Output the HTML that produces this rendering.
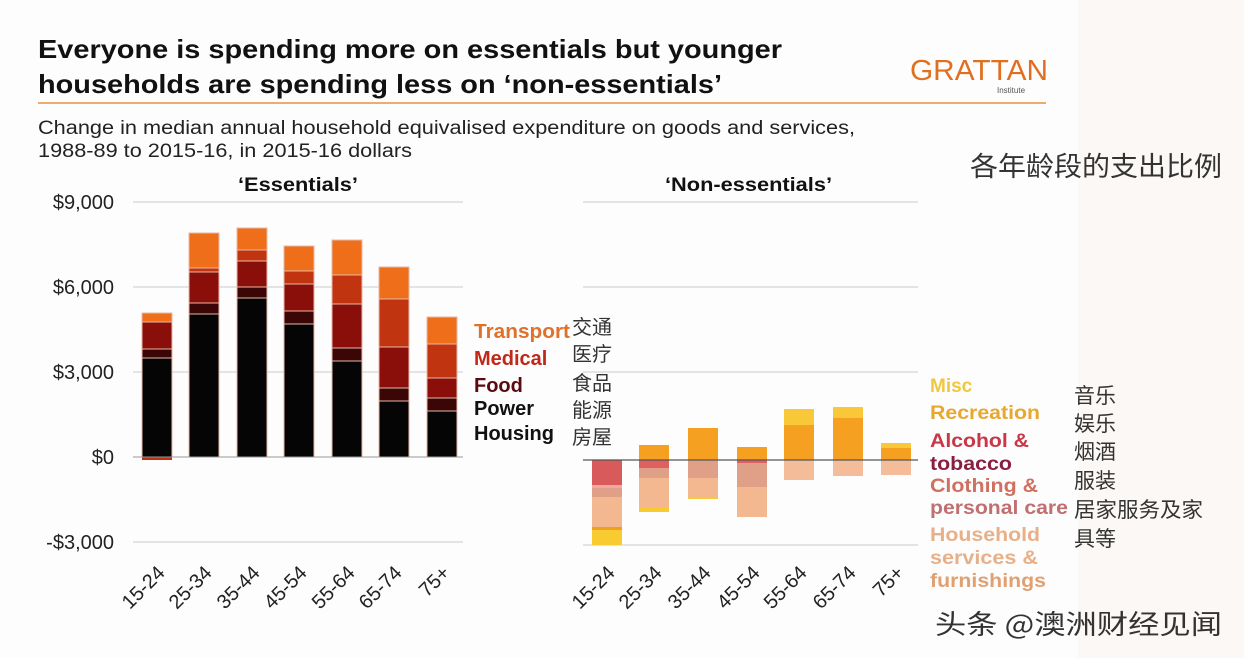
<!DOCTYPE html>
<html><head><meta charset="utf-8"><style>
html,body{margin:0;padding:0;background:#fff;}
svg{display:block;}
text{font-family:"Liberation Sans","Noto Sans CJK SC",sans-serif;}
.cn{font-family:"Noto Sans CJK SC",sans-serif;fill:#333;}
</style></head><body>
<svg width="1244" height="658" viewBox="0 0 1244 658" xmlns="http://www.w3.org/2000/svg">
<rect width="1244" height="658" fill="#fdfdfd"/>
<rect x="1078" y="0" width="166" height="658" fill="#fbf8f5"/>
<text x="38" y="58" font-size="26" font-weight="bold" fill="#111" textLength="744" lengthAdjust="spacingAndGlyphs">Everyone is spending more on essentials but younger</text>
<text x="38" y="93" font-size="26" font-weight="bold" fill="#111" textLength="684" lengthAdjust="spacingAndGlyphs">households are spending less on ‘non-essentials’</text>
<text x="910" y="80" font-size="29" fill="#e07020" textLength="138" lengthAdjust="spacingAndGlyphs">GRATTAN</text>
<text x="997" y="93" font-size="8" fill="#555">Institute</text>
<line x1="38" y1="103" x2="1046" y2="103" stroke="#e89040" stroke-width="1.5"/>
<text x="38" y="134" font-size="19" fill="#222" textLength="817" lengthAdjust="spacingAndGlyphs">Change in median annual household equivalised expenditure on goods and services,</text>
<text x="38" y="157" font-size="19" fill="#222" textLength="374" lengthAdjust="spacingAndGlyphs">1988-89 to 2015-16, in 2015-16 dollars</text>
<text x="970" y="176" class="cn" font-size="27" textLength="252" lengthAdjust="spacingAndGlyphs">各年龄段的支出比例</text>
<text x="238" y="191" font-size="19" font-weight="bold" fill="#111" textLength="120" lengthAdjust="spacingAndGlyphs">‘Essentials’</text>
<text x="665" y="191" font-size="19" font-weight="bold" fill="#111" textLength="167" lengthAdjust="spacingAndGlyphs">‘Non-essentials’</text>
<g stroke="#ccc" stroke-width="1">
<line x1="133" y1="202" x2="463" y2="202"/><line x1="133" y1="287" x2="463" y2="287"/><line x1="133" y1="372" x2="463" y2="372"/><line x1="133" y1="542" x2="463" y2="542"/>
<line x1="583" y1="202" x2="918" y2="202"/><line x1="583" y1="287" x2="918" y2="287"/><line x1="583" y1="372" x2="918" y2="372"/><line x1="583" y1="545" x2="918" y2="545"/>
</g>
<g font-size="20" fill="#222" text-anchor="end">
<text x="114" y="209">$9,000</text><text x="114" y="294">$6,000</text><text x="114" y="379">$3,000</text><text x="114" y="464">$0</text><text x="114" y="549">-$3,000</text>
</g>
<g stroke="#e8b8a8" stroke-width="1">
<rect x="142" y="313" width="30" height="9" fill="#ee6e1a"/><rect x="142" y="322" width="30" height="27" fill="#8a0f0a"/><rect x="142" y="349" width="30" height="9" fill="#3a0606"/><rect x="142" y="358" width="30" height="99" fill="#050505"/><rect x="142" y="457" width="30" height="3" fill="#c03010" stroke="none"/>
<rect x="189" y="233" width="30" height="35" fill="#ee6e1a"/><rect x="189" y="268" width="30" height="4" fill="#c0350f"/><rect x="189" y="272" width="30" height="31" fill="#8a0f0a"/><rect x="189" y="303" width="30" height="11" fill="#3a0606"/><rect x="189" y="314" width="30" height="143" fill="#050505"/>
<rect x="237" y="228" width="30" height="22" fill="#ee6e1a"/><rect x="237" y="250" width="30" height="11" fill="#c0350f"/><rect x="237" y="261" width="30" height="26" fill="#8a0f0a"/><rect x="237" y="287" width="30" height="11" fill="#3a0606"/><rect x="237" y="298" width="30" height="159" fill="#050505"/>
<rect x="284" y="246" width="30" height="25" fill="#ee6e1a"/><rect x="284" y="271" width="30" height="13" fill="#c0350f"/><rect x="284" y="284" width="30" height="27" fill="#8a0f0a"/><rect x="284" y="311" width="30" height="13" fill="#3a0606"/><rect x="284" y="324" width="30" height="133" fill="#050505"/>
<rect x="332" y="240" width="30" height="35" fill="#ee6e1a"/><rect x="332" y="275" width="30" height="29" fill="#c0350f"/><rect x="332" y="304" width="30" height="44" fill="#8a0f0a"/><rect x="332" y="348" width="30" height="13" fill="#3a0606"/><rect x="332" y="361" width="30" height="96" fill="#050505"/>
<rect x="379" y="267" width="30" height="32" fill="#ee6e1a"/><rect x="379" y="299" width="30" height="48" fill="#c0350f"/><rect x="379" y="347" width="30" height="41" fill="#8a0f0a"/><rect x="379" y="388" width="30" height="13" fill="#3a0606"/><rect x="379" y="401" width="30" height="56" fill="#050505"/>
<rect x="427" y="317" width="30" height="27" fill="#ee6e1a"/><rect x="427" y="344" width="30" height="34" fill="#c0350f"/><rect x="427" y="378" width="30" height="20" fill="#8a0f0a"/><rect x="427" y="398" width="30" height="13" fill="#3a0606"/><rect x="427" y="411" width="30" height="46" fill="#050505"/>
</g>
<line x1="133" y1="457" x2="463" y2="457" stroke="#999" stroke-width="1"/>
<g>
<rect x="592" y="460" width="30" height="25" fill="#d85a5a"/><rect x="592" y="485" width="30" height="3" fill="#f0a8a0"/><rect x="592" y="488" width="30" height="9" fill="#e0a088"/><rect x="592" y="497" width="30" height="30" fill="#f4b890"/><rect x="592" y="527" width="30" height="3" fill="#f0a020"/><rect x="592" y="530" width="30" height="15" fill="#f8cc30"/>
<rect x="639" y="445" width="30" height="15" fill="#f5a020"/><rect x="639" y="460" width="30" height="8" fill="#e06060"/><rect x="639" y="468" width="30" height="10" fill="#e0a088"/><rect x="639" y="478" width="30" height="30" fill="#f4b890"/><rect x="639" y="508" width="30" height="4" fill="#f8cc30"/>
<rect x="688" y="428" width="30" height="32" fill="#f5a020"/><rect x="688" y="460" width="30" height="18" fill="#e0a088"/><rect x="688" y="478" width="30" height="19" fill="#f4b890"/><rect x="688" y="497" width="30" height="2" fill="#f8cc30"/>
<rect x="737" y="447" width="30" height="13" fill="#f5a020"/><rect x="737" y="460" width="30" height="3" fill="#e06060"/><rect x="737" y="463" width="30" height="24" fill="#e0a088"/><rect x="737" y="487" width="30" height="30" fill="#f4b890"/>
<rect x="784" y="409" width="30" height="16" fill="#f8c838"/><rect x="784" y="425" width="30" height="35" fill="#f5a020"/><rect x="784" y="460" width="30" height="20" fill="#f4bc98"/>
<rect x="833" y="407" width="30" height="11" fill="#f8c838"/><rect x="833" y="418" width="30" height="42" fill="#f5a020"/><rect x="833" y="460" width="30" height="16" fill="#f4bc98"/>
<rect x="881" y="443" width="30" height="5" fill="#f8c838"/><rect x="881" y="448" width="30" height="12" fill="#f5a020"/><rect x="881" y="460" width="30" height="15" fill="#f4bc98"/>
</g>
<line x1="583" y1="460" x2="918" y2="460" stroke="#555" stroke-width="1.2"/>
<g font-size="20" fill="#222" text-anchor="end">
<text transform="translate(166,574) rotate(-45)">15-24</text><text transform="translate(213,574) rotate(-45)">25-34</text><text transform="translate(261,574) rotate(-45)">35-44</text><text transform="translate(308,574) rotate(-45)">45-54</text><text transform="translate(356,574) rotate(-45)">55-64</text><text transform="translate(403,574) rotate(-45)">65-74</text><text transform="translate(451,574) rotate(-45)">75+</text>
<text transform="translate(616,574) rotate(-45)">15-24</text><text transform="translate(663,574) rotate(-45)">25-34</text><text transform="translate(712,574) rotate(-45)">35-44</text><text transform="translate(761,574) rotate(-45)">45-54</text><text transform="translate(808,574) rotate(-45)">55-64</text><text transform="translate(857,574) rotate(-45)">65-74</text><text transform="translate(905,574) rotate(-45)">75+</text>
</g>
<g font-size="20" font-weight="bold">
<text x="474" y="338" fill="#e0702a" textLength="96" lengthAdjust="spacingAndGlyphs">Transport</text>
<text x="474" y="365" fill="#c02818">Medical</text>
<text x="474" y="392" fill="#5a0a10">Food</text>
<text x="474" y="415" fill="#111">Power</text>
<text x="474" y="440" fill="#111">Housing</text>
</g>
<g class="cn" font-size="20">
<text x="572" y="334">交通</text><text x="572" y="361">医疗</text><text x="572" y="390">食品</text><text x="572" y="417">能源</text><text x="572" y="444">房屋</text>
</g>
<g font-size="19" font-weight="bold">
<text x="930" y="392" fill="#f0c840">Misc</text>
<text x="930" y="419" fill="#e8a830" textLength="110" lengthAdjust="spacingAndGlyphs">Recreation</text>
<text x="930" y="447" fill="#c83848" textLength="99" lengthAdjust="spacingAndGlyphs">Alcohol &amp;</text>
<text x="930" y="470" fill="#8a2040" textLength="82" lengthAdjust="spacingAndGlyphs">tobacco</text>
<text x="930" y="492" fill="#d07060" textLength="108" lengthAdjust="spacingAndGlyphs">Clothing &amp;</text>
<text x="930" y="514" fill="#c07070" textLength="138" lengthAdjust="spacingAndGlyphs">personal care</text>
<text x="930" y="541" fill="#e8b088" textLength="110" lengthAdjust="spacingAndGlyphs">Household</text>
<text x="930" y="564" fill="#e8b088" textLength="108" lengthAdjust="spacingAndGlyphs">services &amp;</text>
<text x="930" y="587" fill="#e0a070" textLength="116" lengthAdjust="spacingAndGlyphs">furnishings</text>
</g>
<g class="cn" font-size="21">
<text x="1074" y="403">音乐</text><text x="1074" y="431">娱乐</text><text x="1074" y="459">烟酒</text><text x="1074" y="488">服装</text><text x="1074" y="517" textLength="129" lengthAdjust="spacingAndGlyphs">居家服务及家</text><text x="1074" y="546">具等</text>
</g>
<text x="935" y="634" class="cn" font-size="27" fill="#222" textLength="287" lengthAdjust="spacingAndGlyphs">头条 @澳洲财经见闻</text>
</svg>
</body></html>
